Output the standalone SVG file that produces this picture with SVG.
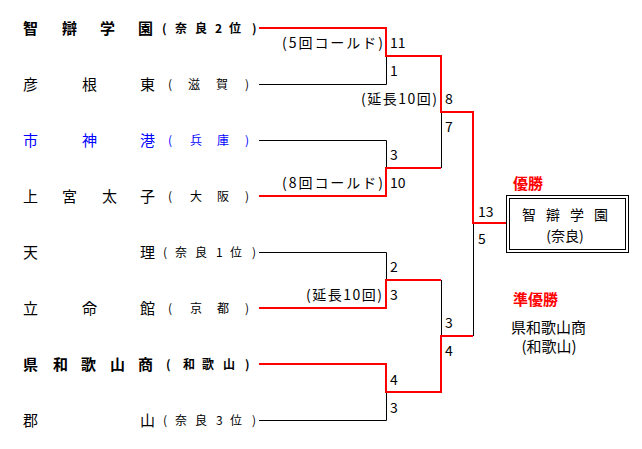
<svg xmlns="http://www.w3.org/2000/svg" width="642" height="449" viewBox="0 0 642 449">
<style>
text{font-family:"Noto Sans CJK JP","Noto Sans",sans-serif;fill:#000}
.n{font-size:15px}
.s{font-size:12px}
.b{font-weight:bold}
.blue{fill:#0000ff}
.sc{font-size:14px}
.an{font-size:14px}
.red{fill:#ff0000}
.w{fill:none;stroke:#000;stroke-width:1}
.r{fill:none;stroke:#ff0000;stroke-width:2}
.m{text-anchor:middle}
.bx{font-size:14px}
</style>
<rect width="642" height="449" fill="#fff"/>
<g id="connectors">
<path class="w" d="M259,84.5 H386.5 V56"/>
<path class="w" d="M259,140.5 H386.5 V168"/>
<path class="w" d="M441.5,112 V168"/>
<path class="w" d="M259,252.5 H386.5 V280"/>
<path class="w" d="M441.5,280 V336"/>
<path class="w" d="M473.5,223 V336"/>
<path class="w" d="M259,420.5 H386.5 V392"/>
<path class="r" d="M259,28 H386 V56 H441 V112 H473 V223 H506"/>
<path class="r" d="M259,196 H386 V168 H441"/>
<path class="r" d="M259,308 H386 V280 H441"/>
<path class="r" d="M259,364 H386 V392 H441 V336 H473"/>
</g>
<g id="team1"><text class="n b" x="23 62 100 138" y="34">智辯学園</text><text class="s b" x="162 175 195 215 229 252" y="33">(奈良2位)</text></g>
<g id="team2"><text class="n" x="23 82 140" y="90">彦根東</text><text class="s" x="168 188 216 245" y="89">(滋賀)</text></g>
<g id="team3"><text class="n blue" x="23 82 140" y="146">市神港</text><text class="s blue" x="168 190 217 245" y="145">(兵庫)</text></g>
<g id="team4"><text class="n" x="23 62 102 140" y="202">上宮太子</text><text class="s" x="168 190 217 245" y="201">(大阪)</text></g>
<g id="team5"><text class="n" x="23 140" y="258">天理</text><text class="s" x="163 175 195 216 230 252" y="257">(奈良1位)</text></g>
<g id="team6"><text class="n" x="23 82 140" y="314">立命館</text><text class="s" x="168 190 217 245" y="313">(京都)</text></g>
<g id="team7"><text class="n b" x="23 53 81 110 138" y="370">県和歌山商</text><text class="s b" x="166 183 202 223 245" y="369">(和歌山)</text></g>
<g id="team8"><text class="n" x="23 140" y="426">郡山</text><text class="s" x="163 175 195 216 230 252" y="425">(奈良3位)</text></g>
<g id="scores">
<text class="sc" x="390" y="48">11</text>
<text class="sc" x="390" y="76">1</text>
<text class="sc" x="390" y="160">3</text>
<text class="sc" x="390" y="188">10</text>
<text class="sc" x="390" y="272">2</text>
<text class="sc" x="390" y="300">3</text>
<text class="sc" x="390" y="385">4</text>
<text class="sc" x="390" y="413">3</text>
<text class="sc" x="445" y="104">8</text>
<text class="sc" x="445" y="132">7</text>
<text class="sc" x="445" y="328">3</text>
<text class="sc" x="445" y="356">4</text>
<text class="sc" x="478" y="217">13</text>
<text class="sc" x="478" y="244">5</text>
<text class="an" x="282" y="48" textLength="101" lengthAdjust="spacing">(5回コールド)</text>
<text class="an" x="361" y="104" textLength="76" lengthAdjust="spacing">(延長10回)</text>
<text class="an" x="282" y="188" textLength="101" lengthAdjust="spacing">(8回コールド)</text>
<text class="an" x="306" y="300" textLength="76" lengthAdjust="spacing">(延長10回)</text>
</g>
<g id="champion">
<rect x="506.5" y="195.5" width="122" height="57" fill="none" stroke="#000"/>
<rect x="509.5" y="198.5" width="116" height="51" fill="none" stroke="#000"/>
<text class="bx" x="522" y="220" textLength="86" lengthAdjust="spacing">智辯学園</text>
<text class="bx m" x="565" y="241">(奈良)</text>
</g>
<g id="labels">
<text class="b red" x="513" y="189" style="font-size:15px">優勝</text>
<text class="b red" x="513" y="305" style="font-size:15px">準優勝</text>
<text class="n" x="511" y="333">県和歌山商</text>
<text class="n m" x="549" y="352">(和歌山)</text>
</g>
</svg>
